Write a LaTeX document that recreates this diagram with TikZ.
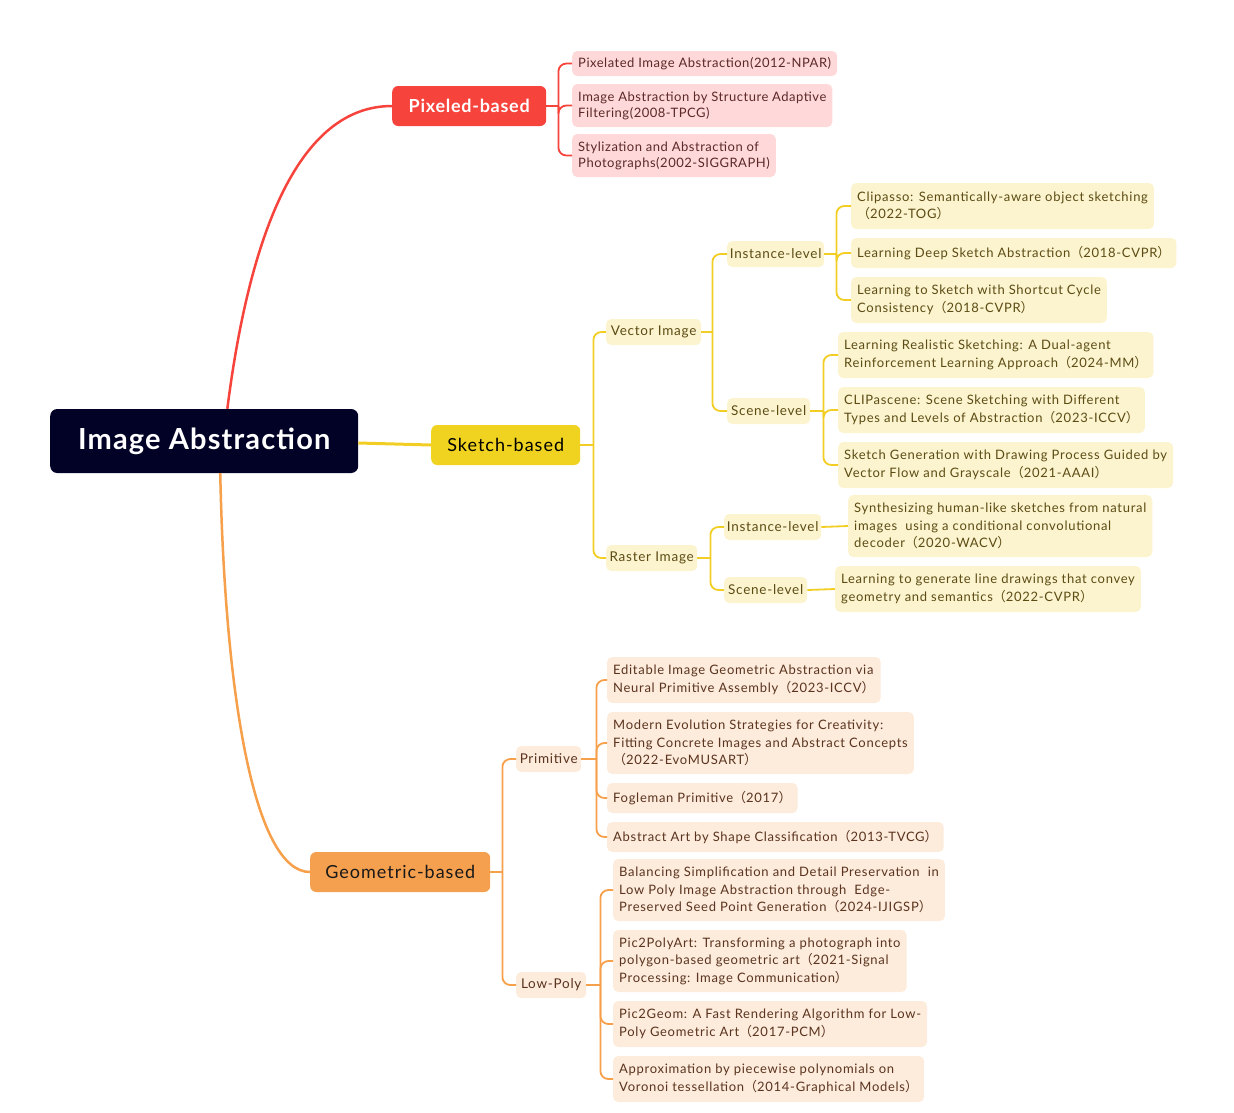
\documentclass[tikz,border=0pt]{standalone}
\usepackage{fontspec}
\setmainfont{Lato}[LetterSpace=5.5]
\newfontfamily\pixfont{Lato}[LetterSpace=4]
\newfontfamily\cjkf{Noto Sans CJK SC}
\newcommand\myLP{{\cjkf （}}
\newcommand\myRP{{\cjkf ）}}
\usetikzlibrary{calc}
\definecolor{rootc}{RGB}{1,2,38}
\definecolor{pixc}{RGB}{246,67,60}
\definecolor{pixleaf}{RGB}{255,217,217}
\definecolor{pixtext}{RGB}{92,40,40}
\definecolor{skc}{RGB}{240,210,32}
\definecolor{skleaf}{RGB}{252,244,207}
\definecolor{sktext}{RGB}{92,76,20}
\definecolor{skline}{RGB}{242,206,36}
\definecolor{geoc}{RGB}{245,160,78}
\definecolor{geoleaf}{RGB}{253,235,220}
\definecolor{geotext}{RGB}{90,52,30}
\definecolor{geoline}{RGB}{246,160,76}
\tikzset{
  base/.style={rounded corners=5pt, inner xsep=6pt, inner ysep=0pt, anchor=west, align=left,
    font=\fontsize{13}{17.5}\selectfont},
  pleaf/.style={base, fill=pixleaf, text=pixtext, font=\pixfont\fontsize{13}{16}\selectfont},
  sleaf/.style={base, fill=skleaf, text=sktext},
  gleaf/.style={base, fill=geoleaf, text=geotext},
  hA/.style={minimum height=30pt},
  hB/.style={minimum height=46pt},
  hC/.style={minimum height=62pt},
  pA/.style={minimum height=25pt},
  pB/.style={minimum height=43pt},
  sub/.style={rounded corners=5pt, inner sep=0pt, anchor=west, minimum height=26pt,
    font=\fontsize{13.5}{16}\selectfont},
  cat/.style={rounded corners=6pt, inner sep=0pt, anchor=west, minimum height=40pt,
    font=\fontsize{18}{22}\selectfont},
  rline/.style={draw=pixc, line width=1.8pt, rounded corners=8pt},
  yline/.style={draw=skline, line width=1.8pt, rounded corners=8pt},
  oline/.style={draw=geoline, line width=1.8pt, rounded corners=8pt},
}
\begin{document}
\begin{tikzpicture}[x=1pt,y=-1pt]
\useasboundingbox (0,0) rectangle (1234,1112);
% root
\node[rounded corners=7pt, fill=rootc, text=white, inner sep=0pt, anchor=west,
  minimum width=308pt, minimum height=64pt, font=\pixfont\fontsize{29}{32}\selectfont\bfseries]
  (root) at (50,441) {Image Abstraction};
% categories
\node[cat, fill=pixc, text=white, minimum width=154pt, font=\pixfont\fontsize{18}{22}\selectfont\bfseries] (pix) at (392,106) {Pixeled-based};
\node[cat, fill=skc, text=black, minimum width=149pt] (sk) at (431,445) {Sketch-based};
\node[cat, fill=geoc, text=black!90, minimum width=180pt] (geo) at (310,872) {Geometric-based};
% main connectors
\draw[draw=pixc, line width=2.5pt] ($(root.north west)!0.575!(root.north east)$) .. controls (250,230) and (300,106) .. (pix.west);
\draw[draw=skline, line width=3pt] ($(root.east)+(0,2)$) -- (sk.west);
\draw[draw=geoline, line width=2.5pt] ($(root.south west)!0.552!(root.south east)$) .. controls (225,700) and (255,872) .. (geo.west);

% ---------- Pixeled ----------
\node[pleaf, pA] (pl1) at (572,63.5) {Pixelated Image Abstraction(2012-NPAR)};
\node[pleaf, pB] (pl2) at (572,105.5) {Image Abstraction by Structure Adaptive\\Filtering(2008-TPCG)};
\node[pleaf, pB] (pl3) at (572,155.5) {Stylization and Abstraction of\\Photographs(2002-SIGGRAPH)};
\coordinate (pixj) at ($(pix.east)+(12,0)$);
\draw[rline] (pix.east) -- (pixj);
\draw[rline] (pixj) |- (pl1.west);
\draw[rline] (pixj) |- (pl2.west);
\draw[rline] (pixj) |- (pl3.west);

% ---------- Sketch ----------
\node[sub, fill=skleaf, text=sktext, minimum width=95pt] (vec) at (606,332) {Vector Image};
\node[sub, fill=skleaf, text=sktext, minimum width=91pt] (ras) at (606,558) {Raster Image};
\node[sub, fill=skleaf, text=sktext, minimum width=97pt] (vins) at (727,254) {Instance-level};
\node[sub, fill=skleaf, text=sktext, minimum width=83pt] (vsce) at (727,411) {Scene-level};
\node[sub, fill=skleaf, text=sktext, minimum width=97pt] (rins) at (724,527) {Instance-level};
\node[sub, fill=skleaf, text=sktext, minimum width=83pt] (rsce) at (724,590) {Scene-level};

\node[sleaf, hB] (vi1) at (851,206) {Clipasso: Semantically-aware object sketching\\\myLP 2022-TOG\myRP};
\node[sleaf, hA] (vi2) at (851,253) {Learning Deep Sketch Abstraction\myLP 2018-CVPR\myRP};
\node[sleaf, hB] (vi3) at (851,300) {Learning to Sketch with Shortcut Cycle\\Consistency\myLP 2018-CVPR\myRP};
\node[sleaf, hB] (vs1) at (838,355) {Learning Realistic Sketching: A Dual-agent\\Reinforcement Learning Approach\myLP 2024-MM\myRP};
\node[sleaf, hB] (vs2) at (838,410) {CLIPascene: Scene Sketching with Different\\Types and Levels of Abstraction\myLP 2023-ICCV\myRP};
\node[sleaf, hB] (vs3) at (838,465) {Sketch Generation with Drawing Process Guided by\\Vector Flow and Grayscale\myLP 2021-AAAI\myRP};
\node[sleaf, hC] (ri1) at (848,526) {Synthesizing human-like sketches from natural\\images\ \ using a conditional convolutional\\decoder\myLP 2020-WACV\myRP};
\node[sleaf, hB] (rs1) at (835,589) {Learning to generate line drawings that convey\\geometry and semantics\myLP 2022-CVPR\myRP};

\coordinate (skj) at ($(sk.east)+(13,0)$);
\draw[yline] (sk.east) -- (skj);
\draw[yline] (skj) |- (vec.west);
\draw[yline] (skj) |- (ras.west);
\coordinate (vecj) at ($(vec.east)+(11,0)$);
\draw[yline] (vec.east) -- (vecj);
\draw[yline] (vecj) |- (vins.west);
\draw[yline] (vecj) |- (vsce.west);
\coordinate (vinsj) at ($(vins.east)+(12,0)$);
\draw[yline] (vins.east) -- (vinsj);
\draw[yline] (vinsj) |- (vi1.west);
\draw[yline] (vinsj) |- (vi2.west);
\draw[yline] (vinsj) |- (vi3.west);
\coordinate (vscej) at ($(vsce.east)+(13,0)$);
\draw[yline] (vsce.east) -- (vscej);
\draw[yline] (vscej) |- (vs1.west);
\draw[yline] (vscej) |- (vs2.west);
\draw[yline] (vscej) |- (vs3.west);
\coordinate (rasj) at ($(ras.east)+(13,0)$);
\draw[yline] (ras.east) -- (rasj);
\draw[yline] (rasj) |- (rins.west);
\draw[yline] (rasj) |- (rsce.west);
\draw[yline] (rins.east) -- (ri1.west);
\draw[yline] (rsce.east) -- (rs1.west);

% ---------- Geometric ----------
\node[sub, fill=geoleaf, text=geotext, minimum width=65pt] (prim) at (516,759) {Primitive};
\node[sub, fill=geoleaf, text=geotext, minimum width=70pt] (lowp) at (516,985) {Low-Poly};

\node[gleaf, hB] (p1) at (607,680) {Editable Image Geometric Abstraction via\\Neural Primitive Assembly\myLP 2023-ICCV\myRP};
\node[gleaf, hC] (p2) at (607,743) {Modern Evolution Strategies for Creativity:\\Fitting Concrete Images and Abstract Concepts\\\myLP 2022-EvoMUSART\myRP};
\node[gleaf, hA] (p3) at (607,798) {Fogleman Primitive\myLP 2017\myRP};
\node[gleaf, hA] (p4) at (607,837) {Abstract Art by Shape Classification\myLP 2013-TVCG\myRP};
\node[gleaf, hC] (lp1) at (613,890) {Balancing Simplification and Detail Preservation\ \ in\\Low Poly Image Abstraction through\ \ Edge-\\Preserved Seed Point Generation\myLP 2024-IJIGSP\myRP};
\node[gleaf, hC] (lp2) at (613,961) {Pic2PolyArt: Transforming a photograph into\\polygon-based geometric art\myLP 2021-Signal\\Processing: Image Communication\myRP};
\node[gleaf, hB] (lp3) at (613,1024) {Pic2Geom: A Fast Rendering Algorithm for Low-\\Poly Geometric Art\myLP 2017-PCM\myRP};
\node[gleaf, hB] (lp4) at (613,1079) {Approximation by piecewise polynomials on\\Voronoi tessellation\myLP 2014-Graphical Models\myRP};

\coordinate (geoj) at ($(geo.east)+(12,0)$);
\draw[oline] (geo.east) -- (geoj);
\draw[oline] (geoj) |- (prim.west);
\draw[oline] (geoj) |- (lowp.west);
\coordinate (primj) at ($(prim.east)+(15,0)$);
\draw[oline] (prim.east) -- (primj);
\draw[oline] (primj) |- (p1.west);
\draw[oline] (primj) |- (p2.west);
\draw[oline] (primj) |- (p3.west);
\draw[oline] (primj) |- (p4.west);
\coordinate (lowpj) at ($(lowp.east)+(14,0)$);
\draw[oline] (lowp.east) -- (lowpj);
\draw[oline] (lowpj) |- (lp1.west);
\draw[oline] (lowpj) |- (lp2.west);
\draw[oline] (lowpj) |- (lp3.west);
\draw[oline] (lowpj) |- (lp4.west);
\end{tikzpicture}
\end{document}
